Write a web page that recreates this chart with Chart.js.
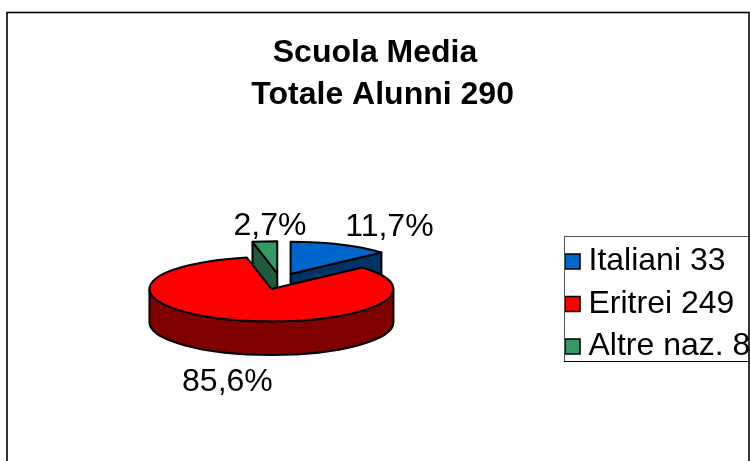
<!DOCTYPE html>
<html>
<head>
<meta charset="utf-8">
<style>html,body{margin:0;padding:0;background:#fff}canvas{display:block}</style>
<script src="https://cdn.jsdelivr.net/npm/chart.js@4"></script>
</head>
<body>
<canvas id="c" width="750" height="461"></canvas>
<script>
const categories = ["Italiani", "Eritrei", "Altre naz."];
const pupils = [33, 249, 8];
const shares = [11.7, 85.6, 2.7];
const titleLines = ["Scuola Media", " \u2009Totale Alunni 290"];
const topColors = ["#0066CC", "#FF0000", "#339966"];
const sideColors = ["#003366", "#800000", "#1E5C3D"];

const FONT = "'Liberation Sans', Arial, sans-serif";
const SQUASH = 0.265, DEPTH = 33.5, EXPLODE = 30, WARP = 6 * Math.PI / 180, SHIFT_X = 4;
const labelNudge = [[55, -17], [-10, 62], [3, -15]];

// Perspective of the tilted pie: angles near the front/back axis spread sideways.
const warp = a => a - WARP * Math.sin(2 * a);

function pt(el, a, r) {
  const mid = (el.startAngle + el.endAngle) / 2;
  const R = r === undefined ? el.outerRadius : r;
  return {
    x: el.x + SHIFT_X + EXPLODE * Math.cos(mid) + R * Math.cos(a),
    y: el.y + SQUASH * (EXPLODE * Math.sin(mid) + R * Math.sin(a))
  };
}
function arcPath(ctx, el, a0, a1, dy, rev) {
  const c = pt(el, 0, 0);
  ctx.ellipse(c.x, c.y + dy, el.outerRadius, el.outerRadius * SQUASH, 0, a0, a1, !!rev);
}
function wall(ctx, el, a, color) {
  const c = pt(el, 0, 0), p = pt(el, a);
  ctx.beginPath();
  ctx.moveTo(c.x, c.y); ctx.lineTo(p.x, p.y);
  ctx.lineTo(p.x, p.y + DEPTH); ctx.lineTo(c.x, c.y + DEPTH);
  ctx.closePath();
  ctx.fillStyle = color; ctx.fill(); ctx.stroke();
}
const pie3d = {
  id: "pie3d",
  beforeDraw(chart) {
    const ctx = chart.ctx;
    ctx.save();
    ctx.fillStyle = "#fff";
    ctx.fillRect(0, 0, chart.width, chart.height);
    ctx.restore();
  },
  afterLayout(chart) {
    chart.legend.left = 562;
    chart.legend.right = 562 + chart.legend.width;
    chart.legend.top = 235;
  },
  beforeDatasetsDraw(chart) {
    const ctx = chart.ctx;
    const arcs = chart.getDatasetMeta(0).data;
    ctx.save();
    ctx.lineWidth = 2;
    ctx.strokeStyle = "#000";
    ctx.lineJoin = "round";
    const order = [2, 0, 1];
    order.forEach(i => {
      const el = arcs[i];
      const a0 = warp(el.startAngle), a1 = warp(el.endAngle);
      if (Math.cos(a0) < -1e-6) wall(ctx, el, a0, sideColors[i]);
      if (Math.cos(a1) > 1e-6) wall(ctx, el, a1, sideColors[i]);
      for (let k = 0; k < 2; k++) {
        const from = Math.max(a0, k * 2 * Math.PI);
        const to = Math.min(a1, k * 2 * Math.PI + Math.PI);
        if (to > from) {
          ctx.beginPath();
          arcPath(ctx, el, from, to, 0);
          arcPath(ctx, el, to, from, DEPTH, true);
          ctx.closePath();
          ctx.fillStyle = sideColors[i]; ctx.fill(); ctx.stroke();
        }
      }
      const c = pt(el, 0, 0);
      ctx.beginPath();
      ctx.moveTo(c.x, c.y);
      arcPath(ctx, el, a0, a1, 0);
      ctx.closePath();
      ctx.fillStyle = el.options.backgroundColor;
      ctx.fill();
      ctx.stroke();
    });
    ctx.restore();
    return false;
  },
  afterDraw(chart) {
    const ctx = chart.ctx;
    const arcs = chart.getDatasetMeta(0).data;
    ctx.save();
    ctx.font = "32px " + FONT;
    ctx.fillStyle = "#000";
    ctx.textAlign = "center";
    ctx.textBaseline = "middle";
    arcs.forEach((el, i) => {
      const mid = (el.startAngle + el.endAngle) / 2;
      const p = pt(el, mid);
      ctx.fillText(shares[i].toFixed(1).replace(".", ",") + "%", p.x + labelNudge[i][0], p.y + labelNudge[i][1]);
    });
    ctx.lineWidth = 1;
    ctx.strokeStyle = "#555";
    ctx.strokeRect(564.5, 236.5, 300, 125);
    ctx.strokeStyle = "#000";
    ctx.beginPath(); ctx.moveTo(564, 361.5); ctx.lineTo(750, 361.5); ctx.stroke();
    ctx.lineWidth = 1.6;
    ctx.strokeRect(7, 12.5, 742, 520);
    ctx.restore();
  }
};

new Chart(document.getElementById("c"), {
  type: "pie",
  plugins: [pie3d],
  data: {
    labels: categories.map((c, i) => c + " " + pupils[i]),
    datasets: [{
      data: shares,
      backgroundColor: topColors,
      borderColor: "#000",
      borderWidth: 1.6
    }]
  },
  options: {
    responsive: false,
    animation: false,
    radius: 122,
    layout: { padding: { bottom: 14 } },
    plugins: {
      tooltip: { enabled: false },
      title: {
        display: true,
        text: titleLines,
        color: "#000",
        font: { family: FONT, size: 32, weight: "bold", lineHeight: 1.31 },
        padding: { top: 32, bottom: 0 }
      },
      legend: {
        position: "right",
        align: "start",
        labels: {
          color: "#000",
          font: { family: FONT, size: 32 },
          usePointStyle: true,
          pointStyle: "rect",
          boxWidth: 0.01,
          boxHeight: 15,
          padding: 10.5
        }
      }
    }
  }
});
</script>
</body>
</html>
